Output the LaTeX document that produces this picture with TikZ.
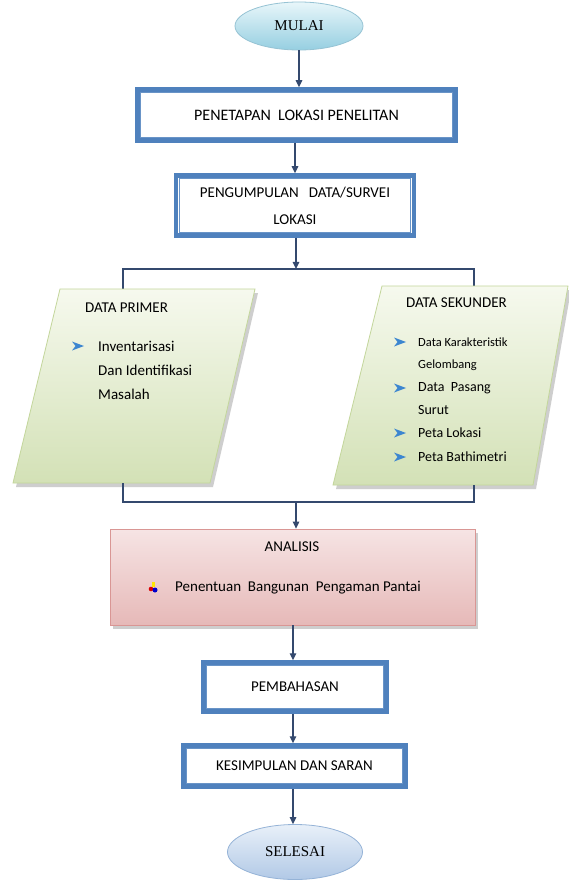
\documentclass[tikz,border=0pt]{standalone}
\usepackage{fontspec}
\setmainfont{Carlito}
\newfontfamily\serifont{Liberation Serif}
\usetikzlibrary{arrows.meta,shapes.geometric}
\definecolor{bandblue}{HTML}{4F81BD}
\definecolor{linecol}{HTML}{34496E}
\definecolor{grnborder}{HTML}{C3D69B}
\definecolor{grntop}{HTML}{F6F9EE}
\definecolor{grnbot}{HTML}{D3E1B6}
\definecolor{pinkborder}{HTML}{D99694}
\definecolor{pinktop}{HTML}{F6E4E4}
\definecolor{pinkbot}{HTML}{E6B9B8}
\definecolor{bulletblue}{HTML}{3C86D0}
\newcommand{\bulletarrow}[2]{%
  \fill[bulletblue] (#1,#2) ++(0,-4.5) -- ++(12,4.5) -- ++(-12,4.5) -- ++(3.5,-4.5) -- cycle;}
\begin{document}
\begin{tikzpicture}[x=1pt,y=-1pt,
  txt/.style={font=\fontsize{15}{18}\selectfont, text=black},
  dblbox/.style={draw=bandblue, line width=4.5pt, fill=white, inner sep=0pt, align=center, txt},
  innerline/.style={draw=bandblue!85, line width=0.9pt},
  conn/.style={draw=linecol, line width=1.3pt},
  arr/.style={conn, -{Triangle[length=7pt,width=6.5pt]}},
  term/.style={ellipse, inner sep=0pt, font=\serifont\fontsize{15}{18}\selectfont},
  lbl/.style={anchor=west, inner sep=0pt, txt},
  shadowfill/.style={fill=black!35, opacity=0.55}
]
\useasboundingbox (0,0) rectangle (569,882);
\fill[white] (0,0) rectangle (569,882);

% MULAI
\node[term, minimum width=128pt, minimum height=48pt, draw={rgb,255:red,150;green,195;blue,212}, line width=0.8pt,
      top color={rgb,255:red,232;green,246;blue,250}, bottom color={rgb,255:red,150;green,207;blue,225}] (mulai) at (299,26) {MULAI};

% Box 1
\node[dblbox, minimum width=318pt, minimum height=51pt, font=\fontsize{16}{19}\selectfont] (b1) at (296.5,115) {PENETAPAN\ \ LOKASI PENELITAN};
\draw[innerline] ([shift={(5.5,5.5)}]b1.north west) rectangle ([shift={(-5.5,-5.5)}]b1.south east);

% Box 2
\node[dblbox, minimum width=238pt, minimum height=60pt, font=\fontsize{15}{27}\selectfont] (b2) at (295,205.5) {PENGUMPULAN\ \ \ DATA/SURVEI\\LOKASI};
\draw[innerline] ([shift={(5.5,5.5)}]b2.north west) rectangle ([shift={(-5.5,-5.5)}]b2.south east);

% connectors top
\draw[arr] (mulai.south) -- (mulai.south |- b1.north);
\draw[arr] (b1.south -| b2.north) -- (b2.north);
\coordinate (split) at (296,269);
\coordinate (tl) at (123,269);
\coordinate (tr) at (474,269);
\coordinate (pltop) at (123,289);
\coordinate (prtop) at (474,286);
\draw[arr] (b2.south -| split) -- (split);
\draw[conn] (pltop) -- (tl) -- (tr) -- (prtop);

% Left parallelogram
\fill[shadowfill] (63,293) -- (258,293) -- (213,487) -- (16,487) -- cycle;
\path[draw=grnborder, line width=0.8pt, top color=grntop, bottom color=grnbot] (60,289) -- (255,289) -- (210,483) -- (13,483) -- cycle;
% Right parallelogram
\fill[shadowfill] (385,290) -- (571,290) -- (536,489) -- (336,489) -- cycle;
\path[draw=grnborder, line width=0.8pt, top color=grntop, bottom color=grnbot] (382,286) -- (568,286) -- (533,485) -- (333,485) -- cycle;

% Left texts
\node[lbl] (dp) at (85,308) {DATA PRIMER};
\bulletarrow{72}{346}
\node[lbl] (dp1) at (98,346) {Inventarisasi};
\node[lbl] (dp2) at (98,370) {Dan Identifikasi};
\node[lbl] (dp3) at (98,394) {Masalah};

% Right texts
\node[lbl] (ds) at (406,303) {DATA SEKUNDER};
\bulletarrow{394}{342}
\node[lbl, font=\fontsize{12.5}{15}\selectfont] (ds1) at (418,342) {Data Karakteristik};
\node[lbl, font=\fontsize{12.5}{15}\selectfont] (ds2) at (418,365) {Gelombang};
\bulletarrow{394}{388}
\node[lbl, font=\fontsize{14}{17}\selectfont] (ds3) at (418,388) {Data\ \ Pasang};
\node[lbl, font=\fontsize{14}{17}\selectfont] (ds4) at (418,410) {Surut};
\bulletarrow{394}{433}
\node[lbl, font=\fontsize{14}{17}\selectfont] (ds5) at (418,433) {Peta Lokasi};
\bulletarrow{394}{457}
\node[lbl, font=\fontsize{14}{17}\selectfont] (ds6) at (418,457) {Peta Bathimetri};

% bottom join
\coordinate (plbot) at (123,483);
\coordinate (prbot) at (474,485);
\coordinate (jl) at (123,502);
\coordinate (jr) at (474,502);
\coordinate (join) at (296,502);
\draw[conn] (plbot) -- (jl) -- (jr) -- (prbot);

% ANALISIS
\fill[shadowfill] (113,533) rectangle (478,629);
\node[draw=pinkborder, line width=0.8pt, top color=pinktop, bottom color=pinkbot, minimum width=365pt, minimum height=96pt, inner sep=0pt] (ana) at (292.5,577) {};
\draw[arr] (join) -- (join |- ana.north);
\node[txt, inner sep=0pt] (anat) at (292,547) {ANALISIS};
\fill[yellow!90!orange] (151.5,582) rectangle (154.5,587);
\fill[red!85!black] (151,589) circle (2.3pt);
\fill[blue!80!black] (155,590) circle (2.5pt);
\node[lbl] (anab) at (175,588) {Penentuan\ \ Bangunan\ \ Pengaman Pantai};

% PEMBAHASAN
\node[dblbox, minimum width=183pt, minimum height=49pt] (b3) at (295,687) {PEMBAHASAN};
\draw[innerline] ([shift={(5.5,5.5)}]b3.north west) rectangle ([shift={(-5.5,-5.5)}]b3.south east);
\draw[arr] (ana.south -| 293,0) -- (293,0 |- b3.north);

% KESIMPULAN
\node[dblbox, minimum width=222pt, minimum height=41pt] (b4) at (294.5,766) {KESIMPULAN DAN SARAN};
\draw[innerline] ([shift={(5.5,5.5)}]b4.north west) rectangle ([shift={(-5.5,-5.5)}]b4.south east);
\draw[arr] (b3.south -| 293,0) -- (293,0 |- b4.north);

% SELESAI
\node[term, minimum width=135pt, minimum height=55pt, draw={rgb,255:red,149;green,179;blue,215}, line width=0.8pt,
      top color={rgb,255:red,232;green,240;blue,249}, bottom color={rgb,255:red,178;green,201;blue,230}] (sel) at (295,852) {SELESAI};
\draw[arr] (b4.south -| 293,0) -- (293,0 |- sel.north);
\end{tikzpicture}
\end{document}
